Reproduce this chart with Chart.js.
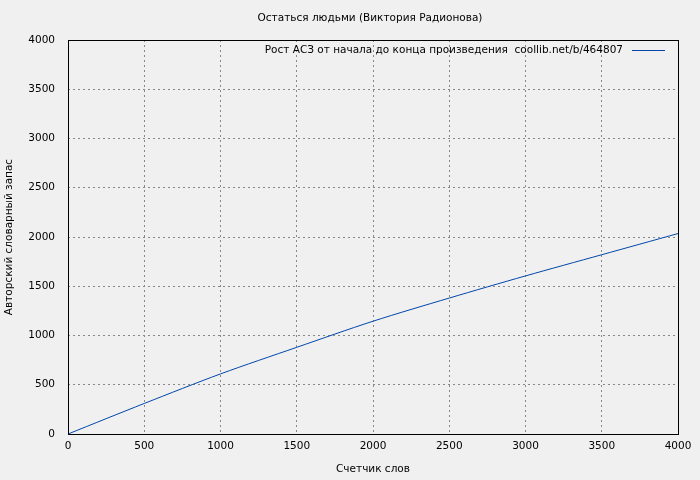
<!DOCTYPE html>
<html><head><meta charset="utf-8">
<script src="https://cdn.jsdelivr.net/npm/chart.js@4/dist/chart.umd.min.js"></script>
<style>body{margin:0;background:#f0f0f0}canvas{display:block}</style>
</head><body>
<div style="width:700px;height:480px"><canvas id="c"></canvas></div>
<script>
const words = [0, 500, 1000, 1500, 2000, 2500, 3000, 3500, 4000];
const vocab = [0, 310, 610, 880, 1145, 1380, 1605, 1820, 2035];
const chartTitle = 'Остаться людьми (Виктория Радионова)';
const seriesLabel = 'Рост АСЗ от начала до конца произведения  coollib.net/b/464807';
const xTitle = 'Счетчик слов';
const yTitle = 'Авторский словарный запас';
const FONT = '"DejaVu Sans", sans-serif';
const FS = 10.5;

const deco = {
  id: 'deco',
  beforeDraw(ch) {
    const c = ch.ctx;
    c.save();
    c.fillStyle = '#f0f0f0';
    c.fillRect(0, 0, ch.width, ch.height);
    c.restore();
  },
  afterDraw(ch) {
    const c = ch.ctx, a = ch.chartArea;
    c.save();
    c.strokeStyle = '#000'; c.lineWidth = 1;
    c.strokeRect(a.left + 0.5, a.top + 0.5, a.right - a.left, a.bottom - a.top);
    c.fillStyle = '#000';
    c.font = FS + 'px ' + FONT;
    c.textAlign = 'center'; c.textBaseline = 'middle';
    c.fillText(chartTitle, 370, 18);
    c.fillText(xTitle, (a.left + a.right) / 2, 469);
    c.save();
    c.translate(9, (a.top + a.bottom) / 2);
    c.rotate(-Math.PI / 2);
    c.fillText(yTitle, 0, 0);
    c.restore();
    c.textAlign = 'right';
    c.fillText(seriesLabel, 623, 50);
    c.strokeStyle = '#0047ab';
    c.beginPath(); c.moveTo(632, 50.5); c.lineTo(665, 50.5); c.stroke();
    c.restore();
  }
};

const grid = { color: '#888', lineWidth: 1, drawTicks: false };
const border = { display: false, dash: [2, 3] };
const ticks = {
  stepSize: 500, color: '#000', font: { family: FONT, size: FS },
  callback: v => String(v)
};

new Chart(document.getElementById('c'), {
  type: 'line',
  data: {
    labels: words,
    datasets: [{
      label: seriesLabel,
      data: words.map((w, i) => ({ x: w, y: vocab[i] })),
      borderColor: '#0047ab', borderWidth: 1, pointRadius: 0, tension: 0.3
    }]
  },
  options: {
    responsive: true, maintainAspectRatio: false, animation: false,
    layout: { padding: { top: 40, right: 22, left: 0, bottom: 0 } },
    plugins: { legend: { display: false }, tooltip: { enabled: false } },
    scales: {
      x: {
        type: 'linear', min: 0, max: 4000,
        ticks: { ...ticks, padding: 6 },
        grid: grid, border: border,
        afterFit: s => { s.height = 46; }
      },
      y: {
        min: 0, max: 4000,
        ticks: { ...ticks, padding: 13 },
        grid: grid, border: border,
        afterFit: s => { s.width = 68; }
      }
    }
  },
  plugins: [deco]
});
</script>
</body></html>
